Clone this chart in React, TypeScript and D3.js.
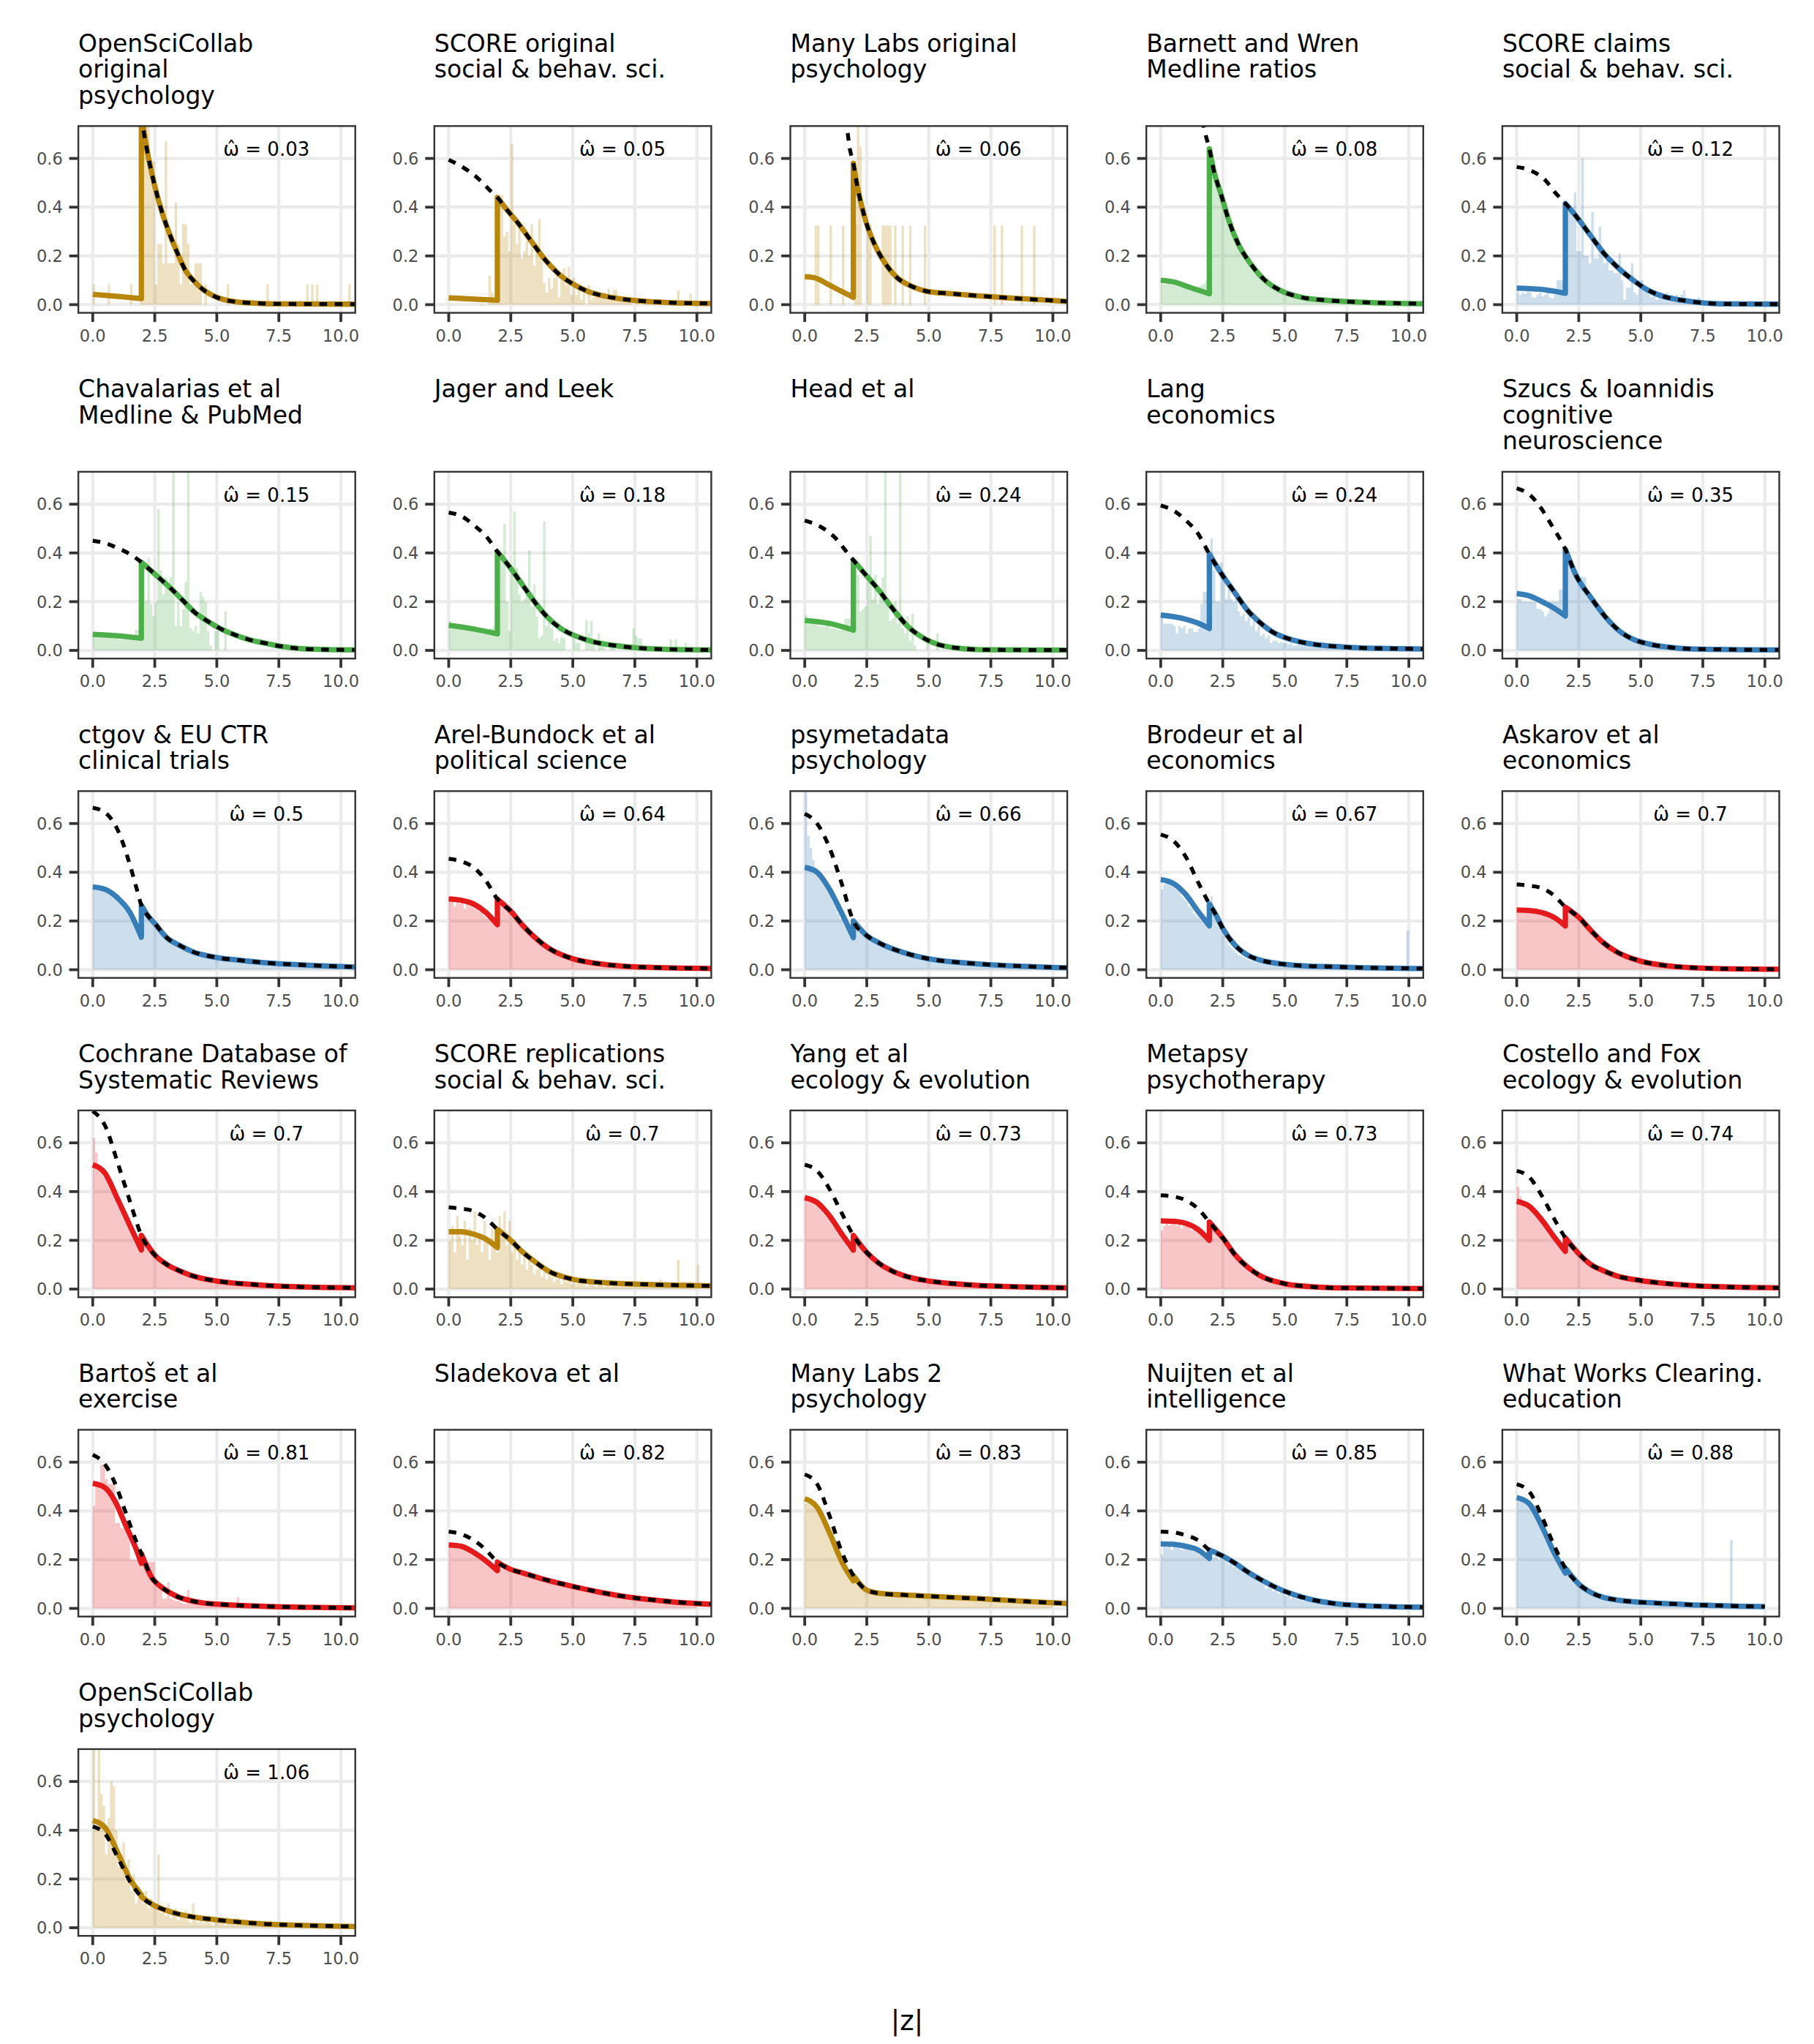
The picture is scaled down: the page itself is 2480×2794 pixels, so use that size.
import React, { useEffect, useRef } from 'react';
import * as d3 from 'd3';

type Pt = [number, number];

// ---- Page / grid geometry
const WIDTH = 2480;
const HEIGHT = 2794;
const PANEL_W = 378.6;
const PANEL_H = 255.3;
const COL_LEFT = 107.1;
const COL_STEP = 486.7;
const FIRST_TOP = 172.3;
const ROW_GAP = 109;
const LINE_H = 36.1;
const ROW_LINES = [3, 3, 2, 2, 2, 2];

const X_DOMAIN: [number, number] = [-0.58, 10.58];
const Y_DOMAIN: [number, number] = [-0.0335, 0.733];
const BIN = 0.1;
const CUT = 1.96;

const xTicks = [0, 2.5, 5, 7.5, 10];
const yTicks = [0, 0.2, 0.4, 0.6];

const palette: Record<string, string> = {
    gold: '#B8860B',
    green: '#4DAF4A',
    blue: '#377EB8',
    red: '#E41A1C'
};

// ---- Facet labels, estimates, colour groups
const titles = [
    'OpenSciCollab\noriginal\npsychology',
    'SCORE original\nsocial & behav. sci.',
    'Many Labs original\npsychology',
    'Barnett and Wren\nMedline ratios',
    'SCORE claims\nsocial & behav. sci.',
    'Chavalarias et al\nMedline & PubMed',
    'Jager and Leek',
    'Head et al',
    'Lang\neconomics',
    'Szucs & Ioannidis\ncognitive\nneuroscience',
    'ctgov & EU CTR\nclinical trials',
    'Arel-Bundock et al\npolitical science',
    'psymetadata\npsychology',
    'Brodeur et al\neconomics',
    'Askarov et al\neconomics',
    'Cochrane Database of\nSystematic Reviews',
    'SCORE replications\nsocial & behav. sci.',
    'Yang et al\necology & evolution',
    'Metapsy\npsychotherapy',
    'Costello and Fox\necology & evolution',
    'Bartoš et al\nexercise',
    'Sladekova et al',
    'Many Labs 2\npsychology',
    'Nuijten et al\nintelligence',
    'What Works Clearing.\neducation',
    'OpenSciCollab\npsychology'
];

const omegaHat = [
    0.03, 0.05, 0.06, 0.08, 0.12,
    0.15, 0.18, 0.24, 0.24, 0.35,
    0.5, 0.64, 0.66, 0.67, 0.7,
    0.7, 0.7, 0.73, 0.73, 0.74,
    0.81, 0.82, 0.83, 0.85, 0.88,
    1.06
];

const groups = [
    'gold', 'gold', 'gold', 'green', 'blue',
    'green', 'green', 'green', 'blue', 'blue',
    'blue', 'red', 'blue', 'blue', 'red',
    'red', 'gold', 'red', 'red', 'red',
    'red', 'red', 'gold', 'blue', 'blue',
    'gold'
];

// ---- Histogram densities, bins of width 0.1 starting at |z| = 0
const histOscOrig = [
    .083, 0, 0, 0, 0, 0, .083, 0, 0, 0,
    0, 0, 0, 0, 0, .083, 0, 0, 0, .9,
    .9, .9, .9, .59, .59, .083, .25, .25, .17, .67,
    .17, .17, .17, .42, .25, .083, .33, .33, .25, .083,
    .083, .17, .17, .17, 0, .083, 0, 0, 0, 0,
    0, 0, 0, 0, .083, 0, 0, 0, 0, 0,
    0, 0, 0, 0, 0, 0, 0, 0, 0, 0,
    .083, 0, 0, 0, 0, 0, 0, 0, 0, 0,
    0, 0, 0, 0, 0, 0, .083, 0, .083, 0,
    .083, 0, 0, 0, 0, 0, 0, 0, 0, 0,
    0, 0, 0, .083
];
const histScoreOrig = [
    0, 0, 0, 0, 0, 0, 0, 0, 0, 0,
    0, 0, 0, .005, 0, 0, .12, .05, .03, .03,
    .45, .45, .28, .3, .22, .66, .33, .25, .33, .19,
    .22, .26, .2, .33, .16, .22, .35, .21, .09, .05,
    .11, .065, .11, .14, .03, .1, .15, .08, .155, .04,
    .11, .04, .07, .02, .05, 0, .08, .02, .03, .045,
    .045, .045, .045, .02, .065, .04, .06, .06, .02, .02,
    .01, .02, .01, .01, 0, .01, .01, 0, .01, .01,
    .02, .01, 0, .01, 0, .01, .01, 0, .01, 0,
    .01, 0, .06, 0, .01, 0, 0, .045, 0, .01,
    0, .01, 0, 0, .005
];
const histManyLabsOrig = [
    0, 0, 0, 0, .325, .325, 0, 0, 0, 0,
    .325, 0, 0, 0, 0, .325, 0, 0, 0, 0,
    .325, .9, .65, 0, 0, .325, .325, 0, 0, 0,
    0, .325, .325, .325, .325, 0, .325, 0, 0, .325,
    0, 0, .325, 0, 0, 0, 0, 0, .325, 0,
    0, 0, 0, 0, 0, 0, 0, 0, 0, 0,
    0, 0, 0, 0, 0, 0, 0, 0, 0, 0,
    0, 0, 0, 0, 0, 0, .325, 0, 0, .325,
    0, 0, 0, 0, 0, 0, 0, .325, 0, 0,
    0, 0, .325
];
const histBarnettWren = [
    .085, .085, .085, .085, .084, .082, .08, .08, .079, .078,
    .077, .076, .075, .075, .075, .076, .08, .085, .1, .105,
    .6, .55, .51, .47, .44, .41, .38, .355, .33, .3,
    .275, .25, .23, .21, .19, .175, .16, .145, .13, .12,
    .11, .1, .092, .085, .077, .07, .064, .058, .053, .049,
    .045, .041, .038, .035, .032, .03, .028, .026, .024, .023,
    .022, .021, .02, .019, .018, .017, .016, .016, .015, .015,
    .014, .014, .013, .013, .012, .012, .011, .011, .011, .01,
    .01, .01, .009, .009, .009, .009, .008, .008, .008, .008,
    .007, .007, .007, .007, .007, .006, .006, .006, .006, .006,
    .005, .005, .005, .005, .005
];
const histScoreClaims = [
    .05, .04, .05, .045, .055, .05, .03, .03, .04, .05,
    .035, .04, .05, .03, .025, .04, .1, .1, .1, .1,
    .4, .4, .4, .46, .22, .22, .6, .2, .2, .17,
    .38, .19, .19, .32, .22, .17, .19, .14, .14, .13,
    .13, .21, .1, .02, .07, .07, .17, .05, .04, .1,
    .1, .06, .06, .04, .03, .05, .02, .03, .05, .03,
    .05, .02, .04, .03, .04, .03, .04, .06, .02, .01,
    .01, .01, .01, .03, .01, .01
];
const histChavalarias = [
    .06, .058, .057, .058, .06, .059, .057, .058, .056, .058,
    .045, .045, .046, .045, .05, .05, .05, .085, .085, .085,
    .36, .2, .38, .19, .14, .2, .58, .33, .23, .3,
    .28, .3, .9, .1, .2, .1, .17, .28, .9, .09,
    .08, .1, .07, .24, .22, .2, .08, .02, 0, .08,
    .08, 0, 0, .16
];
const histJagerLeek = [
    .12, .1, .1, .1, .1, .1, .1, .1, .1, .1,
    .1, .08, .08, .09, .09, .09, .09, .09, .1, .1,
    .4, .4, .52, .2, .08, .33, .57, .34, .23, .2,
    .21, .23, .41, .18, .27, .14, .05, .06, .53, .1,
    .12, .09, .04, .05, .03, .055, .05, 0, 0, 0,
    .05, .03, .03, 0, 0, .125, .07, .12, .03, 0,
    .07, .03, .03, 0, 0, .03, .03, 0, 0, 0,
    0, 0, 0, 0, .09, .06, .05, .05, .02, .02,
    0, 0, 0, 0, 0, 0, 0, 0, 0, .045,
    0, .045, 0, 0, 0, .03
];
const histHead = [
    .145, .11, .11, .11, .11, .1, .1, .1, .1, .1,
    .09, .09, .09, .085, .085, .085, .13, .13, .13, .13,
    .33, .31, .16, .17, .18, .28, .47, .21, .31, .19,
    .22, .3, .9, .2, .12, .13, .2, .11, .9, .09,
    .07, .14, .04, .15, .02, 0, 0, 0, 0, .05,
    0, 0, 0, .07
];
const histLang = [
    .14, .11, .11, .11, .11, .1, .07, .1, .09, .1,
    .07, .09, .09, .075, .075, .09, .19, .24, .24, .24,
    .46, .33, .2, .2, .36, .32, .21, .28, .21, .2,
    .22, .16, .14, .15, .12, .15, .1, .12, .08, .1,
    .06, .07, .05, .06, .03, .04, .04, .03, .035, .03,
    .03, .025, .03, .02, .02, .025, .04, .02, .03, .02,
    .015, .015, .02, .015, .025, .01, .015, .01, .01, .012,
    .02, .01, .01, .008, .01, .02, .008, .008, .006, .008,
    .006, .02, .005, .005, .005, .005, .005, .005, .005, .015,
    .004, .004, .004, .004, .004, .004, .004, .004, .004, .004
];
const histSzucs = [
    .21, .21, .2, .2, .2, .2, .2, .2, .17, .17,
    .16, .14, .15, .2, .2, .2, .2, .25, .25, .42,
    .42, .38, .36, .34, .31, .3, .3, .3, .22, .22,
    .22, .21, .19, .17, .15, .14, .12, .11, .1, .09,
    .08, .07, .065, .055, .05, .045, .04, .035, .03, .03,
    .025, .02, .02, .02, .02, .02, .015, .015, .015, .015,
    .015, .01, .01, .01, .01, .01, .01, .01, .01, .01,
    .006, .006, .006, .006, .006, .006, .006, .006, .006, .006
];
const histCtgov = [
    .33, .33, .34, .33, .33, .32, .32, .31, .31, .3,
    .29, .28, .27, .26, .25, .24, .22, .2, .17, .14,
    .26, .24, .22, .2, .19, .18, .16, .15, .14, .13,
    .12, .115, .11, .1, .095, .09, .085, .08, .078, .075,
    .072, .068, .065, .062, .06, .058, .055, .053, .05, .049,
    .047, .045, .044, .042, .041, .04, .038, .037, .036, .035,
    .034, .033, .032, .031, .03, .029, .028, .027, .027, .026,
    .025, .024, .024, .023, .022, .022, .021, .02, .02, .019,
    .019, .018, .018, .017, .017, .016, .016, .015, .015, .015,
    .014, .014, .013, .013, .013, .012, .012, .012, .011, .011
];
const histArelBundock = [
    .28, .3, .26, .29, .27, .28, .25, .27, .26, .28,
    .25, .26, .24, .25, .22, .21, .22, .2, .19, .2,
    .29, .27, .28, .26, .25, .24, .22, .21, .2, .19,
    .17, .16, .15, .14, .13, .12, .11, .1, .095, .09,
    .085, .075, .07, .065, .06, .055, .05, .047, .045, .04,
    .038, .035, .033, .03, .028, .026, .025, .023, .022, .021,
    .02, .019, .018, .017, .016, .015, .015, .014, .013, .013,
    .012, .011, .011, .01, .01, .009, .009, .008, .008, .008,
    .007, .007, .007, .006, .006, .006, .006, .005, .005, .005
];
const histPsymetadata = [
    .9, .55, .5, .45, .42, .4, .38, .37, .35, .33,
    .31, .28, .26, .23, .21, .2, .18, .16, .15, .14,
    .18, .17, .16, .15, .14, .13, .125, .12, .11, .105,
    .1, .095, .09, .085, .08, .078, .075, .07, .068, .065,
    .06, .058, .055, .052, .05, .048, .046, .044, .042, .04,
    .038, .036, .035, .034, .033, .032, .031, .03, .029, .028,
    .027, .026, .025, .024, .024, .023, .022, .022, .021, .02,
    .02, .019, .018, .018, .017, .017, .016, .016, .015, .015,
    .014, .014, .013, .013, .012, .012, .012, .011, .011, .01,
    .01, .01, .009, .009, .009, .008, .008, .008, .008, .007
];
const histBrodeur = [
    .33, .35, .36, .37, .35, .34, .33, .32, .3, .29,
    .28, .26, .25, .23, .22, .21, .2, .19, .22, .26,
    .3, .24, .21, .18, .16, .14, .12, .1, .09, .08,
    .07, .06, .055, .05, .045, .04, .037, .034, .031, .029,
    .027, .025, .023, .022, .021, .02, .019, .018, .017, .017,
    .016, .015, .015, .014, .014, .013, .013, .013, .012, .012,
    .012, .011, .011, .011, .01, .01, .01, .01, .009, .009,
    .009, .009, .008, .008, .008, .008, .008, .007, .007, .007,
    .007, .007, .006, .006, .006, .006, .006, .006, .005, .005,
    .005, .005, .005, .005, .005, .005, .005, .005, .005, .16
];
const histAskarov = [
    .24, .245, .24, .24, .24, .235, .24, .23, .23, .225,
    .225, .22, .22, .215, .21, .205, .2, .19, .185, .18,
    .25, .245, .24, .235, .225, .215, .205, .195, .185, .17,
    .16, .15, .14, .13, .12, .11, .1, .095, .085, .08,
    .072, .065, .058, .052, .047, .042, .038, .034, .03, .027,
    .025, .022, .02, .018, .016, .015, .013, .012, .011, .01,
    .009, .008, .008, .007, .006, .006, .005, .005, .005, .004,
    .004, .004, .003, .003, .003, .003, .003, .002, .002, .002
];
const histCochrane = [
    .62, .56, .5, .48, .46, .45, .43, .41, .39, .37,
    .35, .33, .31, .29, .27, .25, .23, .21, .19, .18,
    .2, .18, .17, .16, .15, .14, .13, .12, .11, .105,
    .1, .095, .09, .085, .08, .075, .07, .066, .062, .058,
    .055, .052, .049, .046, .043, .041, .039, .037, .035, .033,
    .032, .03, .029, .028, .026, .025, .024, .023, .022, .021,
    .02, .019, .018, .018, .017, .016, .015, .015, .014, .014,
    .013, .013, .012, .012, .011, .011, .01, .01, .01, .009,
    .009, .009, .008, .008, .008, .008, .007, .007, .007, .007,
    .006, .006, .006, .006, .006, .005, .005, .005, .005, .005
];
const histScoreRepl = [
    .2, .26, .15, .3, .22, .18, .28, .12, .25, .2,
    .32, .18, .22, .15, .28, .2, .12, .25, .18, .15,
    .3, .22, .32, .18, .28, .15, .2, .12, .18, .1,
    .15, .08, .12, .1, .06, .08, .1, .05, .07, .04,
    .06, .05, .03, .04, .06, .02, .05, .03, .04, .02,
    .03, .02, .04, .02, .03, .01, .03, .02, .02, .01,
    .03, .02, .01, .02, .03, .01, .02, .02, .01, .02,
    .01, .03, .01, .02, .01, .02, .01, .02, .02, .01,
    .03, .01, .02, .01, .02, .04, .01, .03, .02, .01,
    .03, .02, .12, .02, .03, .02, .01, .03, .02, .02,
    .1
];
const histYang = [
    .37, .38, .36, .36, .35, .34, .33, .31, .3, .29,
    .28, .26, .25, .23, .22, .2, .19, .17, .16, .16,
    .2, .19, .18, .17, .16, .15, .14, .13, .12, .11,
    .1, .095, .09, .085, .08, .074, .07, .066, .062, .058,
    .055, .051, .048, .045, .042, .04, .038, .036, .034, .032,
    .031, .029, .028, .026, .025, .024, .023, .022, .021, .02,
    .019, .018, .017, .017, .016, .015, .015, .014, .014, .013,
    .013, .012, .012, .011, .011, .01, .01, .01, .009, .009,
    .009, .008, .008, .008, .008, .007, .007, .007, .007, .006,
    .006, .006, .006, .006, .005, .005, .005, .005, .005, .005
];
const histMetapsy = [
    .24, .26, .27, .26, .28, .27, .26, .27, .25, .27,
    .26, .27, .24, .25, .24, .23, .22, .21, .2, .19,
    .27, .25, .24, .23, .22, .2, .19, .17, .15, .14,
    .13, .12, .11, .095, .085, .075, .065, .058, .052, .046,
    .04, .035, .03, .027, .024, .021, .018, .016, .014, .012,
    .011, .01, .009, .008, .007, .006, .006, .005, .005, .004,
    .004, .003, .003, .003, .003, .002, .002, .002, .002, .002
];
const histCostello = [
    .42, .38, .36, .35, .34, .33, .32, .3, .29, .28,
    .27, .25, .24, .22, .21, .2, .18, .17, .16, .15,
    .2, .19, .18, .17, .16, .15, .14, .13, .12, .11,
    .1, .095, .09, .085, .08, .075, .07, .066, .062, .058,
    .055, .051, .048, .045, .042, .04, .038, .036, .034, .032,
    .03, .029, .027, .026, .025, .024, .023, .022, .021, .02,
    .019, .018, .017, .016, .016, .015, .014, .014, .013, .013,
    .012, .012, .011, .011, .01, .01, .01, .009, .009, .009,
    .008, .008, .008, .008, .007, .007, .007, .007, .006, .006,
    .006, .006, .006, .005, .005, .005, .005, .005, .005, .005
];
const histBartos = [
    .42, .5, .5, .59, .59, .53, .51, .51, .51, .35,
    .35, .33, .33, .32, .3, .2, .2, .2, .2, .2,
    .19, .19, .19, .19, .19, .1, .085, .085, .04, .04,
    .107, .04, .035, .03, .03, .025, .02, .02, .075, .02,
    .02, .018, .016, .015, .014, .013, .012, .011, .01, .01,
    .01, .009, .009, .008, .008, .008, .007, .007, .046, .006,
    .006, .006, .006, .005, .005, .005, .005, .005, .005, .004,
    .004, .004, .02, .02, .004, .003, .003, .003, .003, .003
];
const histSladekova = [
    .25, .26, .25, .25, .25, .245, .24, .235, .23, .225,
    .22, .215, .21, .205, .2, .195, .19, .18, .17, .16,
    .18, .175, .17, .168, .165, .16, .155, .152, .148, .145,
    .142, .138, .135, .13, .128, .125, .122, .118, .115, .112,
    .11, .107, .104, .101, .098, .095, .093, .09, .088, .085,
    .083, .08, .078, .076, .073, .071, .069, .067, .065, .063,
    .061, .059, .057, .055, .053, .052, .05, .048, .047, .045,
    .044, .042, .041, .04, .038, .037, .036, .035, .034, .033,
    .032, .031, .03, .029, .028, .027, .026, .025, .025, .024,
    .023, .022, .022, .021, .02, .02, .019, .018, .018, .017
];
const histManyLabs2 = [
    .43, .45, .44, .42, .41, .4, .38, .36, .34, .32,
    .3, .28, .25, .23, .21, .19, .17, .15, .13, .12,
    .12, .11, .1, .09, .08, .075, .07, .068, .066, .064,
    .062, .061, .06, .059, .058, .057, .056, .056, .055, .055,
    .054, .054, .053, .053, .052, .052, .051, .051, .05, .05,
    .05, .049, .049, .048, .048, .047, .047, .046, .046, .045,
    .045, .044, .044, .043, .043, .042, .042, .041, .041, .04,
    .04, .039, .039, .038, .037, .037, .036, .036, .035, .034,
    .034, .033, .033, .032, .031, .031, .03, .03, .029, .028,
    .028, .027, .026, .026, .025, .025, .024, .023, .023, .022
];
const histNuijten = [
    .22, .27, .25, .27, .24, .27, .26, .25, .24, .27,
    .25, .24, .26, .23, .24, .22, .23, .21, .22, .2,
    .24, .21, .23, .2, .21, .2, .19, .18, .2, .17,
    .18, .16, .17, .15, .14, .15, .13, .14, .12, .11,
    .12, .1, .08, .1, .09, .07, .08, .06, .07, .06,
    .05, .06, .04, .05, .04, .035, .04, .03, .035, .03,
    .025, .03, .02, .025, .02, .018, .02, .015, .015, .012,
    .013, .01, .012, .01, .009, .008, .009, .008, .007, .007,
    .006, .006, .006, .005, .005, .005, .005, .004, .004, .004
];
const histWwc = [
    .44, .46, .45, .44, .42, .41, .4, .38, .36, .34,
    .32, .3, .27, .25, .23, .21, .19, .17, .15, .14,
    .16, .15, .13, .12, .11, .1, .09, .08, .072, .065,
    .06, .055, .05, .046, .043, .04, .038, .036, .034, .032,
    .03, .029, .028, .027, .026, .025, .024, .023, .022, .022,
    .021, .02, .02, .019, .019, .018, .018, .017, .017, .016,
    .016, .015, .015, .015, .014, .014, .013, .013, .013, .012,
    .012, .012, .011, .011, .011, .01, .01, .01, .01, .009,
    .009, .009, .009, .008, .008, .008, .28, .008, .007, .007,
    .007, .007, .007, .006, .006, .006, .006, .006, .006, .006
];
const histOscPsych = [
    .75, .42, .75, .55, .5, .3, .45, .6, .58, .4,
    .25, .3, .35, .2, .28, .15, .22, .1, .17, .12,
    .1, .15, .08, .12, .1, .08, .3, .06, .08, .05,
    .1, .04, .06, .08, .03, .05, .04, .07, .03, .02,
    .1, .03, .02, .04, .02, .03, .05, .02, .01, .03,
    .03, .02, .04, .01, .02, .03, .02, .01, .04, .02,
    .01, .02, .03, .01, .02, .01, .02, .01, .02, .01,
    .01, .03, .01, .01, .02, .01, .01, .01, .01, .02
];

// ---- Fitted density below the 1.96 cut (selected part)
const fitOscOrig: Pt[] = [[0, 0.042], [1, 0.034], [1.96, 0.025]];
const fitScoreOrig: Pt[] = [[0, 0.028], [1, 0.023], [1.96, 0.018]];
const fitManyLabsOrig: Pt[] = [[0, 0.115], [0.4, 0.11], [1, 0.08], [1.47, 0.055], [1.96, 0.03]];
const fitBarnettWren: Pt[] = [[0, 0.1], [0.57, 0.092], [1.06, 0.075], [1.55, 0.058], [1.96, 0.045]];
const fitScoreClaims: Pt[] = [[0, 0.068], [0.96, 0.063], [1.96, 0.047]];
const fitChavalarias: Pt[] = [[0, 0.066], [1, 0.06], [1.96, 0.05]];
const fitJagerLeek: Pt[] = [[0, 0.103], [1, 0.088], [1.96, 0.068]];
const fitHead: Pt[] = [[0, 0.123], [1.02, 0.11], [1.96, 0.083]];
const fitLang: Pt[] = [[0, 0.145], [1.02, 0.128], [1.5, 0.112], [1.96, 0.09]];
const fitSzucs: Pt[] = [[0, 0.233], [0.53, 0.223], [1.02, 0.2], [1.51, 0.173], [1.96, 0.141]];
const fitCtgov: Pt[] = [[0, 0.34], [0.5, 0.33], [1, 0.295], [1.5, 0.235], [1.96, 0.133]];
const fitArelBundock: Pt[] = [[0, 0.29], [0.5, 0.285], [1, 0.27], [1.5, 0.235], [1.96, 0.185]];
const fitPsymetadata: Pt[] = [[0, 0.42], [0.5, 0.4], [1, 0.33], [1.5, 0.23], [1.96, 0.132]];
const fitBrodeur: Pt[] = [[0, 0.37], [0.5, 0.355], [1, 0.31], [1.5, 0.24], [1.96, 0.18]];
const fitAskarov: Pt[] = [[0, 0.245], [0.5, 0.243], [1, 0.235], [1.5, 0.215], [1.96, 0.18]];
const fitCochrane: Pt[] = [[0, 0.51], [0.5, 0.475], [1, 0.37], [1.5, 0.26], [1.96, 0.16]];
const fitScoreRepl: Pt[] = [[0, 0.235], [0.5, 0.235], [1, 0.225], [1.5, 0.205], [1.96, 0.17]];
const fitYang: Pt[] = [[0, 0.375], [0.5, 0.355], [1, 0.3], [1.5, 0.225], [1.96, 0.16]];
const fitMetapsy: Pt[] = [[0, 0.28], [0.5, 0.278], [1, 0.27], [1.5, 0.245], [1.96, 0.2]];
const fitCostello: Pt[] = [[0, 0.36], [0.5, 0.34], [1, 0.285], [1.5, 0.215], [1.96, 0.155]];
const fitBartos: Pt[] = [[0, 0.513], [0.47, 0.497], [0.9, 0.44], [1.32, 0.343], [1.74, 0.246], [1.96, 0.185]];
const fitSladekova: Pt[] = [[0, 0.26], [0.5, 0.255], [1, 0.23], [1.5, 0.195], [1.96, 0.155]];
const fitManyLabs2: Pt[] = [[0, 0.45], [0.5, 0.415], [1, 0.31], [1.5, 0.19], [1.96, 0.113]];
const fitNuijten: Pt[] = [[0, 0.265], [0.5, 0.263], [1, 0.255], [1.5, 0.24], [1.96, 0.205]];
const fitWwc: Pt[] = [[0, 0.455], [0.5, 0.43], [1, 0.34], [1.5, 0.23], [1.96, 0.145]];
const fitOscPsych: Pt[] = [[0, 0.44], [0.5, 0.41], [1, 0.31], [1.5, 0.2], [1.96, 0.135]];

// ---- Unselected density (dashed); above the cut it is also the fitted curve
const densOscOrig: Pt[] = [[1.9, 0.84], [1.96, 0.78], [2.16, 0.65], [2.47, 0.5], [2.79, 0.38], [3.1, 0.29], [3.42, 0.21], [3.74, 0.14], [4.05, 0.1], [4.47, 0.06], [5, 0.03], [5.74, 0.012], [6.8, 0.005], [7.8, 0.003], [10.6, 0.002]];
const densScoreOrig: Pt[] = [[0, 0.595], [0.47, 0.57], [1.16, 0.52], [1.75, 0.46], [1.96, 0.44], [2.34, 0.39], [2.83, 0.33], [3.33, 0.26], [3.92, 0.18], [4.5, 0.12], [5, 0.085], [5.59, 0.055], [6.28, 0.035], [7.07, 0.022], [8.05, 0.013], [9.03, 0.008], [10.6, 0.005]];
const densManyLabsOrig: Pt[] = [[1.6, 0.83], [1.7, 0.733], [1.8, 0.65], [1.96, 0.58], [2.11, 0.49], [2.26, 0.42], [2.5, 0.33], [2.85, 0.24], [3.24, 0.17], [3.73, 0.11], [4.32, 0.075], [4.91, 0.055], [5.9, 0.045], [6.88, 0.037], [7.86, 0.03], [8.84, 0.024], [9.82, 0.018], [10.6, 0.013]];
const densBarnettWren: Pt[] = [[1.6, 0.82], [1.73, 0.733], [1.96, 0.64], [2.14, 0.55], [2.44, 0.45], [2.73, 0.35], [3.12, 0.25], [3.61, 0.17], [4.2, 0.1], [4.79, 0.06], [5.68, 0.03], [6.66, 0.018], [7.64, 0.012], [8.62, 0.008], [10.6, 0.004]];
const densScoreClaims: Pt[] = [[0, 0.565], [0.57, 0.55], [1.16, 0.51], [1.55, 0.46], [1.96, 0.415], [2.34, 0.37], [2.93, 0.29], [3.52, 0.21], [4.1, 0.15], [4.7, 0.1], [5.28, 0.06], [5.87, 0.035], [6.66, 0.018], [7.54, 0.007], [8.53, 0.003], [10.6, 0.002]];
const densChavalarias: Pt[] = [[0, 0.45], [0.5, 0.44], [1, 0.42], [1.5, 0.395], [1.96, 0.362], [2.23, 0.338], [2.67, 0.298], [3.21, 0.248], [3.65, 0.203], [4.09, 0.158], [4.58, 0.123], [5.17, 0.088], [5.75, 0.063], [6.34, 0.043], [7.03, 0.028], [7.62, 0.016], [8.3, 0.008], [9.1, 0.004], [10.6, 0.002]];
const densJagerLeek: Pt[] = [[0, 0.566], [0.53, 0.55], [1.02, 0.513], [1.51, 0.468], [1.96, 0.405], [2.49, 0.338], [2.98, 0.268], [3.47, 0.198], [3.96, 0.138], [4.55, 0.088], [5.14, 0.058], [5.92, 0.033], [6.7, 0.02], [7.59, 0.01], [8.57, 0.005], [10.6, 0.002]];
const densHead: Pt[] = [[0, 0.533], [0.63, 0.508], [1.22, 0.463], [1.7, 0.403], [1.96, 0.37], [2.39, 0.318], [2.98, 0.248], [3.57, 0.168], [4.16, 0.098], [4.75, 0.053], [5.33, 0.026], [6.12, 0.01], [7.1, 0.003], [10.6, 0.001]];
const densLang: Pt[] = [[0, 0.595], [0.53, 0.573], [1.02, 0.533], [1.51, 0.478], [1.96, 0.395], [2.49, 0.308], [2.98, 0.238], [3.47, 0.168], [3.96, 0.118], [4.55, 0.073], [5.14, 0.048], [6.12, 0.026], [7.1, 0.016], [8.08, 0.01], [9.06, 0.008], [10.6, 0.006]];
const densSzucs: Pt[] = [[0, 0.665], [0.53, 0.638], [1.02, 0.578], [1.41, 0.513], [1.96, 0.415], [2.39, 0.308], [2.98, 0.218], [3.57, 0.138], [4.16, 0.078], [4.75, 0.043], [5.33, 0.026], [6.12, 0.013], [7.1, 0.006], [10.6, 0.002]];
const densCtgov: Pt[] = [[0, 0.665], [0.5, 0.645], [1, 0.575], [1.5, 0.43], [1.75, 0.34], [1.96, 0.265], [2.2, 0.225], [2.5, 0.19], [3, 0.13], [3.5, 0.1], [4, 0.075], [5, 0.05], [6, 0.038], [7, 0.028], [8, 0.022], [9, 0.017], [10.6, 0.011]];
const densArelBundock: Pt[] = [[0, 0.455], [0.5, 0.445], [1, 0.42], [1.5, 0.365], [1.96, 0.29], [2.5, 0.24], [3, 0.18], [3.5, 0.13], [4, 0.09], [5, 0.045], [6, 0.025], [7, 0.015], [8, 0.01], [10.6, 0.005]];
const densPsymetadata: Pt[] = [[0, 0.64], [0.5, 0.6], [1, 0.5], [1.5, 0.35], [1.96, 0.2], [2.5, 0.14], [3, 0.11], [4, 0.07], [5, 0.045], [6, 0.032], [7, 0.024], [8, 0.018], [10.6, 0.008]];
const densBrodeur: Pt[] = [[0, 0.555], [0.5, 0.53], [1, 0.465], [1.5, 0.36], [1.96, 0.27], [2.2, 0.23], [2.5, 0.17], [3, 0.1], [3.5, 0.06], [4, 0.04], [5, 0.022], [6, 0.015], [7, 0.012], [8, 0.009], [10.6, 0.005]];
const densAskarov: Pt[] = [[0, 0.35], [0.5, 0.345], [1, 0.335], [1.5, 0.305], [1.96, 0.257], [2.5, 0.215], [3, 0.16], [3.5, 0.11], [4, 0.075], [5, 0.035], [6, 0.017], [7, 0.009], [8, 0.005], [10.6, 0.002]];
const densCochrane: Pt[] = [[0, 0.73], [0.5, 0.67], [1, 0.52], [1.5, 0.36], [1.96, 0.22], [2.5, 0.14], [3, 0.1], [3.5, 0.075], [4, 0.055], [5, 0.033], [6, 0.022], [7, 0.015], [8, 0.01], [10.6, 0.005]];
const densScoreRepl: Pt[] = [[0, 0.335], [0.5, 0.33], [1, 0.32], [1.5, 0.29], [1.96, 0.245], [2.5, 0.2], [3, 0.15], [3.5, 0.11], [4, 0.075], [5, 0.04], [6, 0.028], [7, 0.022], [8, 0.019], [9, 0.016], [10.6, 0.013]];
const densYang: Pt[] = [[0, 0.51], [0.5, 0.485], [1, 0.41], [1.5, 0.31], [1.96, 0.22], [2.5, 0.15], [3, 0.105], [3.5, 0.075], [4, 0.055], [5, 0.033], [6, 0.022], [7, 0.015], [8, 0.011], [10.6, 0.005]];
const densMetapsy: Pt[] = [[0, 0.385], [0.5, 0.38], [1, 0.365], [1.5, 0.33], [1.96, 0.275], [2.5, 0.21], [3, 0.14], [3.5, 0.09], [4, 0.055], [5, 0.022], [6, 0.01], [7, 0.005], [10.6, 0.002]];
const densCostello: Pt[] = [[0, 0.485], [0.5, 0.46], [1, 0.385], [1.5, 0.29], [1.96, 0.21], [2.5, 0.145], [3, 0.1], [3.5, 0.075], [4, 0.055], [5, 0.035], [6, 0.023], [7, 0.015], [8, 0.01], [10.6, 0.005]];
const densBartos: Pt[] = [[0, 0.63], [0.47, 0.594], [0.9, 0.513], [1.32, 0.396], [1.74, 0.278], [1.96, 0.225], [2.37, 0.128], [2.79, 0.086], [3.42, 0.048], [4.16, 0.027], [5.2, 0.016], [6.8, 0.009], [8.9, 0.004], [10.6, 0.002]];
const densSladekova: Pt[] = [[0, 0.315], [0.5, 0.305], [1, 0.28], [1.5, 0.24], [1.96, 0.19], [2.5, 0.16], [3, 0.145], [4, 0.115], [5, 0.09], [6, 0.068], [7, 0.05], [8, 0.037], [9, 0.027], [10.6, 0.017]];
const densManyLabs2: Pt[] = [[0, 0.55], [0.5, 0.51], [1, 0.38], [1.5, 0.23], [1.96, 0.135], [2.5, 0.075], [3, 0.062], [4, 0.055], [5, 0.05], [6, 0.045], [7, 0.04], [8, 0.034], [9, 0.028], [10.6, 0.02]];
const densNuijten: Pt[] = [[0, 0.315], [0.5, 0.312], [1, 0.3], [1.5, 0.28], [1.96, 0.24], [2.5, 0.215], [3, 0.185], [3.5, 0.15], [4, 0.12], [5, 0.07], [6, 0.038], [7, 0.02], [8, 0.012], [10.6, 0.005]];
const densWwc: Pt[] = [[0, 0.51], [0.5, 0.48], [1, 0.38], [1.5, 0.26], [1.96, 0.165], [2.5, 0.1], [3, 0.065], [3.5, 0.045], [4, 0.035], [5, 0.025], [6, 0.02], [7, 0.015], [8, 0.012], [9, 0.009], [10, 0.007]];
const densOscPsych: Pt[] = [[0, 0.415], [0.5, 0.385], [1, 0.29], [1.5, 0.19], [1.96, 0.127], [2.5, 0.09], [3, 0.07], [3.5, 0.055], [4, 0.045], [5, 0.032], [6, 0.022], [7, 0.015], [8, 0.011], [10.6, 0.005]];

const hists = [
    histOscOrig, histScoreOrig, histManyLabsOrig, histBarnettWren, histScoreClaims,
    histChavalarias, histJagerLeek, histHead, histLang, histSzucs,
    histCtgov, histArelBundock, histPsymetadata, histBrodeur, histAskarov,
    histCochrane, histScoreRepl, histYang, histMetapsy, histCostello,
    histBartos, histSladekova, histManyLabs2, histNuijten, histWwc,
    histOscPsych
];
const fits = [
    fitOscOrig, fitScoreOrig, fitManyLabsOrig, fitBarnettWren, fitScoreClaims,
    fitChavalarias, fitJagerLeek, fitHead, fitLang, fitSzucs,
    fitCtgov, fitArelBundock, fitPsymetadata, fitBrodeur, fitAskarov,
    fitCochrane, fitScoreRepl, fitYang, fitMetapsy, fitCostello,
    fitBartos, fitSladekova, fitManyLabs2, fitNuijten, fitWwc,
    fitOscPsych
];
const densities = [
    densOscOrig, densScoreOrig, densManyLabsOrig, densBarnettWren, densScoreClaims,
    densChavalarias, densJagerLeek, densHead, densLang, densSzucs,
    densCtgov, densArelBundock, densPsymetadata, densBrodeur, densAskarov,
    densCochrane, densScoreRepl, densYang, densMetapsy, densCostello,
    densBartos, densSladekova, densManyLabs2, densNuijten, densWwc,
    densOscPsych
];

const FONT = '"DejaVu Sans", Verdana, sans-serif';

export default function App() {
    const svgRef = useRef<SVGSVGElement>(null);

    useEffect(() => {
        document.body.style.margin = '0';
        const svg = d3.select(svgRef.current);
        svg.selectAll('*').remove();
        svg.attr('width', WIDTH).attr('height', HEIGHT);

        svg.append('rect')
            .attr('width', WIDTH)
            .attr('height', HEIGHT)
            .attr('fill', '#ffffff');

        const x = d3.scaleLinear().domain(X_DOMAIN).range([0, PANEL_W]);
        const y = d3.scaleLinear().domain(Y_DOMAIN).range([PANEL_H, 0]);
        const line = d3.line<Pt>()
            .x(d => x(d[0]))
            .y(d => y(d[1]))
            .curve(d3.curveMonotoneX);
        // histogram as one stepped area, so neighbouring bins don't seam
        const step = d3.area<Pt>()
            .x(d => x(d[0]))
            .y0(y(0))
            .y1(d => y(d[1]))
            .curve(d3.curveStepAfter);
        const fmt = d3.format('.1f');

        // panel tops: each row's strip is as tall as its longest title
        const rowTops: number[] = [];
        ROW_LINES.forEach((n, r) => {
            rowTops.push(r === 0 ? FIRST_TOP : rowTops[r - 1] + PANEL_H + ROW_GAP + LINE_H * n);
        });

        const defs = svg.append('defs');
        defs.append('clipPath')
            .attr('id', 'panel-clip')
            .append('rect')
            .attr('width', PANEL_W)
            .attr('height', PANEL_H);

        titles.forEach((title, i) => {
            const col = i % 5;
            const row = Math.floor(i / 5);
            const left = COL_LEFT + col * COL_STEP;
            const top = rowTops[row];
            const color = palette[groups[i]];
            const g = svg.append('g').attr('transform', `translate(${left},${top})`);

            // ---- Strip title (top aligned across the row)
            const firstBase = -101.6 + (3 - ROW_LINES[row]) * LINE_H;
            const t = g.append('text')
                .attr('font-family', FONT)
                .attr('font-size', 33)
                .attr('fill', '#000');
            title.split('\n').forEach((ln, k) => {
                t.append('tspan')
                    .attr('x', 0)
                    .attr('y', firstBase + k * 35.5)
                    .text(ln);
            });

            // ---- Grid
            const grid = g.append('g').attr('stroke', '#EBEBEB').attr('stroke-width', 4.2);
            xTicks.forEach(v => {
                grid.append('line')
                    .attr('x1', x(v)).attr('x2', x(v))
                    .attr('y1', 0).attr('y2', PANEL_H);
            });
            yTicks.forEach(v => {
                grid.append('line')
                    .attr('x1', 0).attr('x2', PANEL_W)
                    .attr('y1', y(v)).attr('y2', y(v));
            });

            const plot = g.append('g').attr('clip-path', 'url(#panel-clip)');

            // ---- Histogram
            const h = hists[i];
            const bins: Pt[] = h.map((v, k) => [k * BIN, v] as Pt);
            bins.push([h.length * BIN, 0]);
            plot.append('path')
                .attr('d', step(bins) || '')
                .attr('fill', color)
                .attr('fill-opacity', 0.25);

            // ---- Fitted curve: selected part, jump at the cut, then the density
            const dens = densities[i];
            const right = dens.filter(d => d[0] >= CUT);
            const leftPath = line(fits[i]) || '';
            const rightPath = line(right) || '';
            plot.append('path')
                .attr('d', leftPath + 'L' + rightPath.slice(1))
                .attr('fill', 'none')
                .attr('stroke', color)
                .attr('stroke-width', 7.3)
                .attr('stroke-linejoin', 'round');

            // ---- Unselected density, dashed
            plot.append('path')
                .attr('d', line(dens) || '')
                .attr('fill', 'none')
                .attr('stroke', '#000')
                .attr('stroke-width', 5.3)
                .attr('stroke-dasharray', '10.5,10.5');

            // ---- Panel border
            g.append('rect')
                .attr('width', PANEL_W)
                .attr('height', PANEL_H)
                .attr('fill', 'none')
                .attr('stroke', '#333333')
                .attr('stroke-width', 2.4);

            // ---- Axes
            const axis = g.append('g');
            yTicks.forEach(v => {
                axis.append('line')
                    .attr('x1', -12.5).attr('x2', 0)
                    .attr('y1', y(v)).attr('y2', y(v))
                    .attr('stroke', '#333333')
                    .attr('stroke-width', 3.8);
                axis.append('text')
                    .attr('x', -21.4)
                    .attr('y', y(v))
                    .attr('dy', '0.36em')
                    .attr('text-anchor', 'end')
                    .attr('font-family', FONT)
                    .attr('font-size', 22.5)
                    .attr('fill', '#4D4D4D')
                    .text(fmt(v));
            });
            xTicks.forEach(v => {
                axis.append('line')
                    .attr('x1', x(v)).attr('x2', x(v))
                    .attr('y1', PANEL_H).attr('y2', PANEL_H + 12.5)
                    .attr('stroke', '#333333')
                    .attr('stroke-width', 3.8);
                axis.append('text')
                    .attr('x', x(v))
                    .attr('y', PANEL_H + 39)
                    .attr('text-anchor', 'middle')
                    .attr('font-family', FONT)
                    .attr('font-size', 22.5)
                    .attr('fill', '#4D4D4D')
                    .text(fmt(v));
            });

            // ---- Estimate label
            g.append('text')
                .attr('x', x(7))
                .attr('y', y(0.61))
                .attr('text-anchor', 'middle')
                .attr('font-family', FONT)
                .attr('font-size', 26)
                .attr('fill', '#000')
                .text(`\u03C9\u0302 = ${omegaHat[i]}`);
        });

        svg.append('text')
            .attr('x', 1240)
            .attr('y', 2775)
            .attr('text-anchor', 'middle')
            .attr('font-family', FONT)
            .attr('font-size', 37)
            .attr('fill', '#000')
            .text('|z|');
    }, []);

    return <svg ref={svgRef} style={{ display: 'block' }} />;
}
